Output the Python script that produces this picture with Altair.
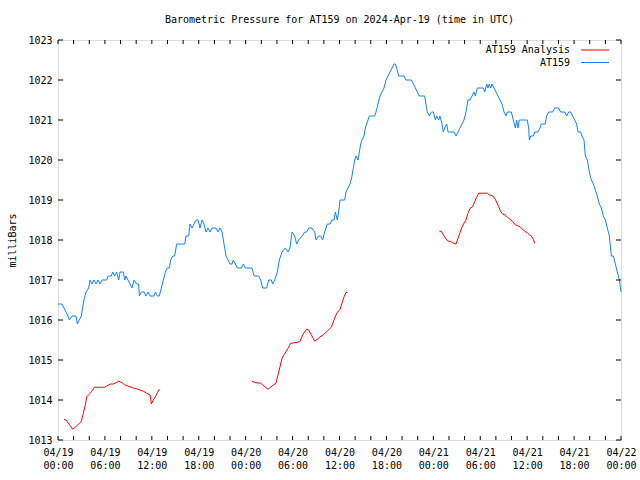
import altair as alt
import pandas as pd

title_text = "Barometric Pressure for AT159 on 2024-Apr-19 (time in UTC)"
y_title = "milliBars"
series_names = ["AT159 Analysis", "AT159"]
series_colors = ["#ff0000", "#1183ff"]
mono = "DejaVu Sans Mono"

x_major = list(range(0, 73, 6))
x_minor = list(range(0, 73, 2))
y_ticks = list(range(1013, 1024))

# AT159 observed pressure (hours since 2024-04-19 00:00 UTC, mbar)
at159_hours = [
    0.00, 0.51, 0.77, 1.02, 1.28, 1.45, 1.79, 2.30, 2.47, 2.73, 2.98, 3.15, 3.32, 3.58, 3.92,
    4.09, 4.35, 4.60, 4.86, 5.12, 5.37, 5.63, 6.22, 6.40, 6.82, 6.99, 7.25, 7.50, 7.76, 7.93,
    8.36, 8.53, 8.70, 8.95, 9.21, 9.46, 9.72, 10.06, 10.32, 10.40, 10.66, 11.00, 11.25, 11.51,
    11.77, 12.28, 12.45, 12.71, 12.96, 13.22, 13.47, 13.73, 13.98, 14.24, 14.41, 14.67, 14.92,
    15.18, 16.20, 16.37, 16.71, 16.88, 17.14, 17.39, 17.65, 17.91, 18.16, 18.42, 18.67, 18.93,
    19.18, 19.44, 19.70, 20.21, 20.46, 20.72, 20.98, 21.23, 21.49, 21.74, 22.00, 22.25, 22.42,
    22.68, 22.94, 23.28, 23.45, 23.70, 23.96, 24.81, 25.07, 25.66, 25.92, 26.17, 26.69, 26.94,
    27.28, 27.45, 27.71, 28.05, 28.31, 28.65, 29.07, 29.41, 29.67, 29.93, 30.27, 30.52, 30.78,
    31.21, 31.55, 31.80, 32.06, 32.48, 32.83, 33.00, 33.34, 33.59, 33.85, 34.10, 34.45, 34.79,
    35.04, 35.30, 35.47, 35.72, 35.89, 36.07, 36.23, 36.66, 36.83, 37.09, 37.34, 37.60, 37.77,
    37.94, 38.11, 38.37, 38.54, 38.71, 38.88, 39.13, 39.30, 39.47, 39.82, 39.99, 40.50, 40.67,
    40.92, 41.18, 41.44, 41.69, 41.95, 42.20, 42.46, 42.72, 42.97, 43.14, 43.31, 43.57, 43.82,
    44.25, 44.50, 44.76, 45.19, 45.44, 45.70, 45.95, 46.21, 46.55, 46.89, 47.06, 47.23, 47.49,
    47.75, 48.00, 48.26, 48.43, 48.68, 48.85, 49.11, 49.28, 49.45, 49.71, 49.88, 50.05, 50.39,
    50.64, 50.90, 51.16, 51.41, 51.67, 51.92, 52.18, 52.43, 52.69, 52.95, 53.20, 53.37, 53.63,
    54.40, 54.57, 54.82, 54.99, 55.16, 55.33, 55.50, 55.76, 56.02, 56.27, 56.53, 56.78, 57.04,
    57.29, 57.46, 57.98, 58.23, 58.49, 58.66, 58.83, 59.00, 59.34, 59.60, 59.77, 60.02, 60.19,
    60.28, 60.45, 60.79, 60.96, 61.39, 61.64, 61.81, 62.32, 62.49, 62.75, 63.26, 63.52, 64.03,
    64.28, 64.80, 65.05, 65.31, 65.56, 65.82, 66.08, 66.33, 66.50, 66.84, 67.01, 67.27, 67.44,
    67.70, 67.95, 68.21, 68.46, 68.72, 68.97, 69.23, 69.49, 69.74, 70.00, 70.25, 70.51, 70.77,
    71.02, 71.28, 71.53, 71.79, 71.87, 72.00,
]
at159_mb = [
    1016.4, 1016.4, 1016.3, 1016.2, 1016.1, 1016.0, 1016.1, 1016.1, 1015.9, 1016.0, 1016.1, 1016.3, 1016.5, 1016.7, 1016.8,
    1017.0, 1016.9, 1017.0, 1016.9, 1017.0, 1016.9, 1017.0, 1017.0, 1017.1, 1017.1, 1017.2, 1017.1, 1017.2, 1017.0, 1017.2,
    1017.2, 1017.0, 1017.1, 1017.0, 1016.9, 1016.8, 1017.0, 1016.9, 1016.9, 1016.6, 1016.7, 1016.7, 1016.6, 1016.7,
    1016.6, 1016.6, 1016.7, 1016.6, 1016.6, 1016.8, 1017.0, 1017.2, 1017.3, 1017.3, 1017.5, 1017.6, 1017.6,
    1017.9, 1017.9, 1018.1, 1018.1, 1018.4, 1018.3, 1018.4, 1018.5, 1018.5, 1018.3, 1018.5, 1018.4, 1018.2,
    1018.3, 1018.2, 1018.3, 1018.3, 1018.2, 1018.3, 1018.2, 1017.9, 1017.6, 1017.5, 1017.4, 1017.4, 1017.5,
    1017.4, 1017.3, 1017.3, 1017.3, 1017.4, 1017.3, 1017.3, 1017.1, 1017.1, 1017.0, 1016.8, 1016.8, 1017.0,
    1017.0, 1016.9, 1017.0, 1017.2, 1017.5, 1017.7, 1017.8, 1017.7, 1017.8, 1018.2, 1018.1, 1017.9, 1018.0,
    1018.1, 1018.2, 1018.2, 1018.3, 1018.3, 1018.2, 1018.0, 1018.1, 1018.1, 1018.0, 1018.2, 1018.4, 1018.4,
    1018.5, 1018.5, 1018.7, 1018.5, 1018.7, 1019.0, 1019.0, 1019.0, 1019.2, 1019.3, 1019.4, 1019.6, 1019.8,
    1020.0, 1020.1, 1020.0, 1020.2, 1020.4, 1020.5, 1020.6, 1020.8, 1020.9, 1021.1, 1021.1, 1021.1, 1021.2,
    1021.4, 1021.6, 1021.7, 1021.8, 1022.0, 1022.1, 1022.2, 1022.3, 1022.4, 1022.4, 1022.3, 1022.1, 1022.1,
    1022.1, 1022.0, 1022.0, 1022.0, 1021.9, 1021.8, 1021.7, 1021.6, 1021.6, 1021.6, 1021.4, 1021.2, 1021.1,
    1021.2, 1021.2, 1021.0, 1021.1, 1021.0, 1021.1, 1020.9, 1020.7, 1020.8, 1020.9, 1020.7, 1020.7, 1020.7,
    1020.7, 1020.6, 1020.7, 1020.8, 1020.9, 1021.0, 1021.2, 1021.5, 1021.5, 1021.6, 1021.7, 1021.6, 1021.8,
    1021.8, 1021.7, 1021.9, 1021.8, 1021.9, 1021.8, 1021.9, 1021.8, 1021.7, 1021.6, 1021.5, 1021.4, 1021.2,
    1021.1, 1021.2, 1021.2, 1021.0, 1020.8, 1021.0, 1020.8, 1021.0, 1021.0, 1021.0, 1021.0, 1021.0, 1020.8,
    1020.5, 1020.6, 1020.6, 1020.7, 1020.7, 1020.8, 1020.9, 1020.9, 1021.1, 1021.2, 1021.2, 1021.3, 1021.3,
    1021.2, 1021.2, 1021.1, 1021.2, 1021.2, 1021.1, 1021.0, 1020.9, 1020.7, 1020.7, 1020.6, 1020.5, 1020.1,
    1020.0, 1019.7, 1019.5, 1019.4, 1019.25, 1019.1, 1018.9, 1018.8, 1018.6, 1018.5, 1018.3, 1018.1, 1017.6,
    1017.6, 1017.4, 1017.2, 1017.0, 1016.9, 1016.7,
]

# AT159 Analysis (three separate runs)
analysis1_hours = [0.77, 1.02, 1.88, 2.22, 2.73, 2.98, 3.24, 3.50, 3.67, 3.92, 4.18, 4.43, 4.69, 5.97,
                   6.40, 6.74, 7.08, 7.42, 7.76, 8.01, 8.27, 8.53, 8.95, 9.63, 10.06, 10.49, 10.91,
                   11.34, 11.77, 11.94, 12.19, 12.45, 12.71, 12.96]
analysis1_mb = [1013.52, 1013.50, 1013.27, 1013.32, 1013.42, 1013.46, 1013.67, 1013.88, 1014.08, 1014.13,
                1014.18, 1014.25, 1014.32, 1014.32, 1014.37, 1014.40, 1014.40, 1014.43, 1014.47, 1014.45,
                1014.42, 1014.38, 1014.35, 1014.30, 1014.28, 1014.25, 1014.22, 1014.17, 1014.13, 1013.90,
                1014.00, 1014.08, 1014.18, 1014.27]
analysis2_hours = [24.81, 25.32, 25.92, 26.34, 26.86, 27.37, 27.88, 28.14, 28.39, 28.65, 28.90, 29.16,
                   29.50, 29.76, 30.27, 30.95, 31.29, 31.80, 32.06, 32.40, 32.82, 33.25, 33.51, 33.93,
                   34.36, 34.96, 35.30, 35.64, 36.07, 36.32, 36.58, 36.83, 37.00]
analysis2_mb = [1014.47, 1014.43, 1014.42, 1014.35, 1014.27, 1014.35, 1014.42, 1014.63, 1014.83, 1015.04,
                1015.13, 1015.21, 1015.32, 1015.42, 1015.43, 1015.46, 1015.63, 1015.77, 1015.75, 1015.63,
                1015.47, 1015.53, 1015.58, 1015.63, 1015.71, 1015.82, 1016.00, 1016.17, 1016.27, 1016.42,
                1016.58, 1016.69, 1016.69]
analysis3_hours = [48.77, 49.02, 49.28, 49.54, 49.79, 50.22, 50.56, 50.90, 51.16, 51.41, 51.67, 51.92,
                   52.18, 52.43, 52.69, 53.03, 53.29, 53.54, 53.80, 54.91, 55.16, 55.50, 55.76, 56.02,
                   56.36, 56.61, 56.87, 57.21, 57.47, 57.81, 58.15, 58.49, 58.83, 59.09, 59.34, 59.68,
                   60.02, 60.28, 60.53, 60.79, 60.96]
analysis3_mb = [1018.22, 1018.22, 1018.13, 1018.05, 1017.98, 1017.96, 1017.92, 1017.90, 1018.04, 1018.18,
                1018.32, 1018.42, 1018.50, 1018.67, 1018.79, 1018.83, 1018.96, 1019.07, 1019.17, 1019.17,
                1019.13, 1019.11, 1019.07, 1018.98, 1018.83, 1018.71, 1018.65, 1018.62, 1018.57, 1018.52,
                1018.46, 1018.38, 1018.35, 1018.33, 1018.28, 1018.22, 1018.18, 1018.13, 1018.10, 1018.02,
                1017.92]

W, H = 563, 400

obs_df = pd.DataFrame({"hours": at159_hours, "mb": at159_mb})
ana_df = pd.concat([
    pd.DataFrame({"hours": analysis1_hours, "mb": analysis1_mb, "seg": 1}),
    pd.DataFrame({"hours": analysis2_hours, "mb": analysis2_mb, "seg": 2}),
    pd.DataFrame({"hours": analysis3_hours, "mb": analysis3_mb, "seg": 3}),
], ignore_index=True)

xscale = alt.Scale(domain=[0, 72], nice=False, zero=False)
yscale = alt.Scale(domain=[1013, 1023], nice=False, zero=False)

label_expr = ("['04/' + (19 + floor(datum.value / 24)), "
              "(datum.value % 24 < 10 ? '0' : '') + (datum.value % 24) + ':00']")

xaxis = alt.Axis(values=x_major, labelExpr=label_expr, title=None, grid=False,
                 ticks=False, tickSize=0, domain=False, labelPadding=7,
                 labelFont=mono, labelFontSize=10, labelColor="black",
                 labelLineHeight=13, labelBaseline="top", labelFlush=False,
                 labelOverlap=False)
yaxis = alt.Axis(values=y_ticks, format="d", title=y_title, grid=False,
                 ticks=False, tickSize=0, domain=False, labelPadding=6,
                 labelFont=mono, labelFontSize=10, labelColor="black",
                 titleFont=mono, titleFontSize=10, titleFontWeight="normal",
                 titleColor="black", titleX=-46, titleY=200, titleAngle=270,
                 titleAlign="center", titleBaseline="middle", labelFlush=False,
                 labelOverlap=False)


def xenc():
    return alt.X("hours:Q", scale=xscale, axis=xaxis)


def yenc():
    return alt.Y("mb:Q", scale=yscale, axis=yaxis)


obs_line = alt.Chart(obs_df).mark_line(color=series_colors[1], strokeWidth=1).encode(
    x=xenc(), y=yenc())
ana_line = alt.Chart(ana_df).mark_line(color=series_colors[0], strokeWidth=1).encode(
    x=xenc(), y=yenc(), detail="seg:N")

xt_df = pd.DataFrame({"hours": x_minor})
yt_df = pd.DataFrame({"mb": y_ticks})
tick_len = 4
bottom_ticks = alt.Chart(xt_df).mark_rule(color="black", strokeWidth=1).encode(
    x=xenc(), y=alt.value(H), y2=alt.value(H - tick_len))
top_ticks = alt.Chart(xt_df).mark_rule(color="black", strokeWidth=1).encode(
    x=xenc(), y=alt.value(0), y2=alt.value(tick_len))
left_ticks = alt.Chart(yt_df).mark_rule(color="black", strokeWidth=1).encode(
    y=yenc(), x=alt.value(0), x2=alt.value(tick_len + 1))
right_ticks = alt.Chart(yt_df).mark_rule(color="black", strokeWidth=1).encode(
    y=yenc(), x=alt.value(W), x2=alt.value(W - tick_len - 1))

legend_layers = []
legend_y = [10, 22.5]
for i, name in enumerate(series_names):
    ldf = pd.DataFrame({"series": [name]})
    legend_layers.append(
        alt.Chart(ldf).mark_text(align="right", baseline="middle", font=mono,
                                 fontSize=10, color="black").encode(
            text="series:N", x=alt.value(512), y=alt.value(legend_y[i])))
    legend_layers.append(
        alt.Chart(ldf).mark_rule(color=series_colors[i], strokeWidth=1).encode(
            x=alt.value(523), x2=alt.value(551), y=alt.value(legend_y[i])))

chart = alt.layer(
    obs_line, ana_line, bottom_ticks, top_ticks, left_ticks, right_ticks, *legend_layers
).properties(
    width=W, height=H,
    title=alt.TitleParams(title_text, anchor="middle", font=mono, fontSize=10,
                          fontWeight="normal", color="black", offset=10),
    padding={"left": 58, "top": 40, "right": 19, "bottom": 40},
    autosize=alt.AutoSizeParams(type="none"),
).configure_view(stroke="black", strokeWidth=1).configure(background="white")

chart.save("out.html", embed_options={"renderer": "svg", "actions": False})
